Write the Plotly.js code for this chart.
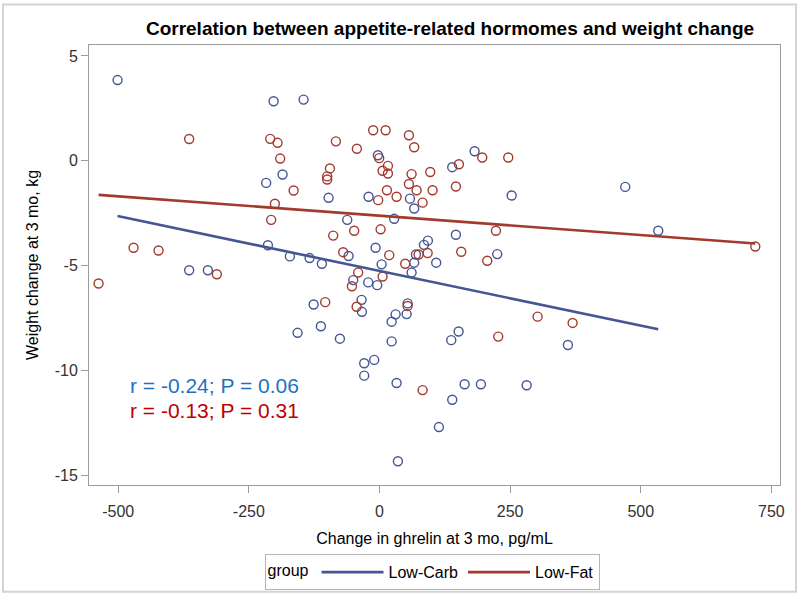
<!DOCTYPE html>
<html>
<head>
<meta charset="utf-8">
<script src="https://cdn.plot.ly/plotly-3.0.1.min.js"></script>
<style>html,body{margin:0;padding:0;background:#fff;}#chart{width:800px;height:602px;}</style>
</head>
<body>
<div id="chart"></div>
<script>
// ---- Data ----
const carbX = [-501.3,-202.7,-145.3,-185.5,-216.9,-213.6,-171.5,-133.8,-110.3,-364.3,-328.5,-126.1,-112.2,-156.8,
  -3.1,182.0,139.2,-20.9,58.2,66.4,-97.4,252.9,-61.8,28.1,146.2,-59.2,-7.5,4.0,66.4,108.5,85.0,92.6,69.7,225.3,
  -50.3,-21.6,-4.4,61.4,-34.3,-33.7,53.8,30.8,51.9,23.2,-75.8,23.2,137.3,151.4,-10.1,-29.3,-29.3,32.7,162.9,194.1,
  281.6,139.2,113.7,35.2,360.6,470.3,533.5];
const carbY = [3.85,2.84,2.92,-0.65,-1.05,-4.02,-4.55,-4.63,-4.90,-5.21,-5.21,-6.84,-7.88,-8.19,
  0.27,0.46,-0.30,-1.71,-1.80,-2.27,-1.76,-1.65,-2.81,-2.76,-3.52,-4.53,-4.14,-4.93,-4.85,-4.85,-4.00,-3.80,-4.46,-4.44,
  -5.68,-5.79,-5.92,-5.32,-6.62,-7.19,-6.79,-7.31,-7.30,-7.66,-8.47,-8.60,-8.54,-8.13,-9.48,-9.64,-10.23,-10.58,-10.64,-10.64,
  -10.69,-11.38,-12.68,-14.31,-8.77,-1.24,-3.33];
const fatX = [-364.3,-209.2,-195.1,-190.1,-164.4,-200.2,-207.3,-470.7,-422.9,-537.7,-311.3,-103.9,-83.5,-12.1,11.7,56.3,
  -43.3,66.4,-0.6,196.6,246.4,152.0,-94.9,-100.1,-100.1,16.1,5.9,16.1,61.4,97.1,56.3,71.0,101.6,146.2,14.2,32.7,-2.5,82.5,
  -88.6,-48.4,2.1,222.8,-69.5,18.6,49.2,74.8,92.1,156.4,206.2,-40.8,5.9,-52.8,-43.8,53.8,227.2,302.6,82.5,369.6,719.2];
const fatY = [1.04,1.05,0.86,0.11,-1.41,-2.04,-2.81,-4.14,-4.27,-5.84,-5.40,-6.73,0.93,1.46,1.46,1.22,
  0.58,0.65,0.13,0.16,0.16,-0.16,-0.36,-0.74,-0.89,-0.24,-0.47,-0.60,-0.63,-0.53,-1.10,-1.40,-1.40,-1.22,-1.40,-1.71,-1.87,-1.99,
  -3.56,-3.33,-3.26,-3.33,-4.35,-4.49,-4.90,-4.46,-4.39,-4.33,-4.76,-5.32,-5.51,-5.97,-6.95,-6.91,-8.37,-7.42,-10.92,-7.72,-4.08];
const groupNames = ['Low-Carb', 'Low-Fat'];
const statLabels = ['r = -0.24; P = 0.06', 'r = -0.13; P = 0.31'];
const xTicks = [-500, -250, 0, 250, 500, 750];
const yTicks = [-15, -10, -5, 0, 5];

// ---- Least squares fit line over the data range ----
function fit(xs, ys) {
  const n = xs.length;
  const mx = xs.reduce((a, b) => a + b, 0) / n;
  const my = ys.reduce((a, b) => a + b, 0) / n;
  let sxy = 0, sxx = 0;
  for (let i = 0; i < n; i++) { sxy += (xs[i] - mx) * (ys[i] - my); sxx += (xs[i] - mx) ** 2; }
  const b = sxy / sxx, a = my - b * mx;
  const x0 = Math.min(...xs), x1 = Math.max(...xs);
  return { x: [x0, x1], y: [a + b * x0, a + b * x1] };
}
const carbFit = fit(carbX, carbY);
const fatFit = fit(fatX, fatY);

const BLUE = '#445694', RED = '#A23A2E';
const FONT = 'Liberation Sans, Arial, sans-serif';
const M = { l: 89, r: 20, t: 45, b: 112 };
const W = 800, H = 602;
const pw = W - M.l - M.r, ph = H - M.t - M.b;
const px = v => (v - M.l) / pw;
const py = v => (H - M.b - v) / ph;

const markerStyle = c => ({ symbol: 'circle-open', size: 9, color: c, line: { width: 1.4, color: c } });

const traces = [
  { x: carbX, y: carbY, type: 'scatter', mode: 'markers', marker: markerStyle(BLUE), showlegend: false, hoverinfo: 'skip' },
  { x: fatX, y: fatY, type: 'scatter', mode: 'markers', marker: markerStyle(RED), showlegend: false, hoverinfo: 'skip' },
  { x: carbFit.x, y: carbFit.y, type: 'scatter', mode: 'lines', name: groupNames[0], line: { color: BLUE, width: 2.6 } },
  { x: fatFit.x, y: fatFit.y, type: 'scatter', mode: 'lines', name: groupNames[1], line: { color: RED, width: 2.6 } }
];

const axisCommon = {
  showline: true, mirror: true, linecolor: '#9b9b9b', linewidth: 1,
  ticks: 'outside', ticklen: 7, tickcolor: '#9b9b9b', tickwidth: 1,
  showgrid: false, zeroline: false,
  tickfont: { family: FONT, size: 16, color: '#333' }
};

const layout = {
  width: W, height: H, margin: M,
  paper_bgcolor: '#fff', plot_bgcolor: '#fff',
  font: { family: FONT, color: '#000' },
  title: { text: '<b>Correlation between appetite-related hormomes and weight change</b>',
    font: { family: FONT, size: 19, color: '#000' }, xref: 'container', yref: 'container',
    x: 450 / W, xanchor: 'center', y: 1 - 28 / H, yanchor: 'middle' },
  xaxis: Object.assign({}, axisCommon, {
    range: [-556, 766.5], tickvals: xTicks, ticktext: xTicks.map(String), ticklabelstandoff: 5,
    title: { text: 'Change in ghrelin at 3 mo, pg/mL', font: { family: FONT, size: 16, color: '#000' }, standoff: 13 }
  }),
  yaxis: Object.assign({}, axisCommon, {
    range: [-15.44, 5.52], tickvals: yTicks, ticktext: yTicks.map(String),
    title: { text: 'Weight change at 3 mo, kg', font: { family: FONT, size: 16, color: '#000' }, standoff: 12 }
  }),
  showlegend: true,
  legend: {
    orientation: 'h', x: px(432), xanchor: 'center', y: py(560), yanchor: 'top',
    bordercolor: '#b5b5b5', borderwidth: 1, bgcolor: '#fff',
    font: { family: FONT, size: 16, color: '#000' },
    title: { text: 'group', side: 'left', font: { family: FONT, size: 16, color: '#000' } },
    itemwidth: 62, tracegroupgap: 0
  },
  annotations: [
    { text: statLabels[0], xref: 'paper', yref: 'paper', x: px(128), y: py(389), xanchor: 'left', yanchor: 'middle',
      showarrow: false, font: { family: FONT, size: 21, color: '#1f72bf' } },
    { text: statLabels[1], xref: 'paper', yref: 'paper', x: px(128), y: py(415), xanchor: 'left', yanchor: 'middle',
      showarrow: false, font: { family: FONT, size: 21, color: '#c00000' } }
  ],
  shapes: [
    { type: 'rect', xref: 'paper', yref: 'paper', x0: px(3), x1: px(796), y0: py(598), y1: py(4),
      line: { color: '#d4d4d4', width: 2 }, fillcolor: 'rgba(0,0,0,0)', layer: 'below' }
  ]
};

Plotly.newPlot('chart', traces, layout, { displayModeBar: false, staticPlot: true });
</script>
</body>
</html>
